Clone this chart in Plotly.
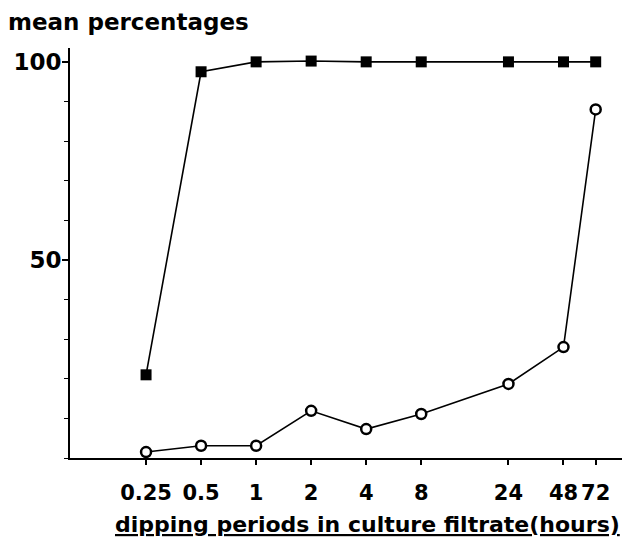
import plotly.graph_objects as go

periods = [0.25, 0.5, 1, 2, 4, 8, 24, 48, 72]
period_labels = ["0.25", "0.5", "1", "2", "4", "8", "24", "48", "72"]
squares = [21, 97.5, 100, 100.2, 100, 100, 100, 100, 100]
circles = [1.5, 3.1, 3.1, 11.9, 7.3, 11.1, 18.7, 28, 88]
y_ticks = [50, 100]

FONT = "DejaVu Sans"

fig = go.Figure()
fig.add_trace(go.Scatter(
    x=periods, y=squares, mode="lines+markers",
    line=dict(color="black", width=1.6),
    marker=dict(symbol="square", size=11, color="black"),
    cliponaxis=False, showlegend=False))
fig.add_trace(go.Scatter(
    x=periods, y=circles, mode="lines+markers",
    line=dict(color="black", width=1.6),
    marker=dict(symbol="circle", size=10, color="white",
                line=dict(color="black", width=2.5)),
    cliponaxis=False, showlegend=False))

fig.update_layout(
    width=630, height=541,
    margin=dict(l=62, r=8, t=40, b=91, autoexpand=False),
    paper_bgcolor="white", plot_bgcolor="white",
    font=dict(family=FONT, color="black"),
    title=dict(text="<b>mean percentages</b>", x=0.0, xanchor="left",
               y=0.974, yanchor="middle", font=dict(size=23, family=FONT)),
    xaxis=dict(type="log", range=[-1.018, 2.045], automargin=False,
               tickvals=periods, ticktext=["<b>%s</b>" % t for t in period_labels],
               ticks="outside", ticklen=5, tickwidth=1.5, tickcolor="black",
               ticklabelstandoff=10,
               tickfont=dict(size=21, family=FONT),
               showline=True, linecolor="black", linewidth=2,
               showgrid=False, zeroline=False),
    yaxis=dict(range=[0, 103.5], automargin=False,
               tickvals=y_ticks, ticktext=["<b>%d</b>" % v for v in y_ticks],
               ticks="outside", ticklen=6, tickwidth=1.5, tickcolor="black",
               ticklabelstandoff=-4,
               tickfont=dict(size=23, family=FONT),
               minor=dict(dtick=10, tick0=0, ticks="outside", ticklen=4,
                          tickwidth=1.2, tickcolor="black", showgrid=False),
               showline=True, linecolor="black", linewidth=2,
               showgrid=False, zeroline=False),
    annotations=[dict(
        text="<b><u>dipping periods in culture filtrate(hours)</u></b>",
        xref="paper", yref="paper", x=0.532, y=-0.163,
        xanchor="center", yanchor="middle", showarrow=False,
        font=dict(size=22, family=FONT))],
)

fig.write_html("out.html")
